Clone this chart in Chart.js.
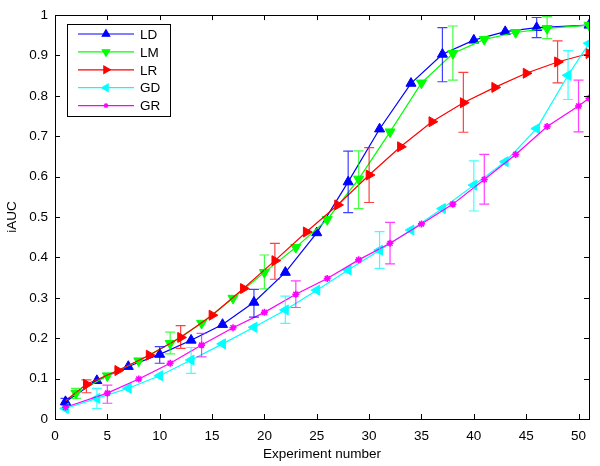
<!DOCTYPE html>
<html>
<head>
<meta charset="utf-8">
<script src="https://cdn.jsdelivr.net/npm/chart.js@4/dist/chart.umd.min.js"></script>
<style>
  html, body { margin: 0; padding: 0; background: #fff; }
  canvas { display: block; }
</style>
</head>
<body>
<canvas id="c" width="600" height="466"></canvas>
<script>
// tick labels
const xTicks = [0, 5, 10, 15, 20, 25, 30, 35, 40, 45, 50];
const yTicks = [0, 0.1, 0.2, 0.3, 0.4, 0.5, 0.6, 0.7, 0.8, 0.9, 1];

// series
const ldX = [1, 4, 7, 10, 13, 16, 19, 22, 25, 28, 31, 34, 37, 40, 43, 46, 51];
const ldY = [0.043, 0.095, 0.13, 0.16, 0.195, 0.234, 0.289, 0.363, 0.461, 0.587, 0.718, 0.831, 0.903, 0.938, 0.959, 0.969, 0.975];
const ldErrX = [1, 10, 19, 28, 37, 46];
const ldErrLo = [0.035, 0.138, 0.252, 0.511, 0.835, 0.944];
const ldErrHi = [0.051, 0.179, 0.321, 0.663, 0.969, 0.994];

const lmX = [1, 2, 5, 8, 11, 14, 17, 20, 23, 26, 29, 32, 35, 38, 41, 44, 47, 51];
const lmY = [0.045, 0.064, 0.107, 0.144, 0.187, 0.237, 0.299, 0.363, 0.425, 0.494, 0.594, 0.711, 0.832, 0.905, 0.94, 0.957, 0.967, 0.975];
const lmErrX = [2, 11, 20, 29, 38, 47];
const lmErrLo = [0.051, 0.161, 0.322, 0.521, 0.839, 0.942];
const lmErrHi = [0.076, 0.215, 0.406, 0.664, 0.973, 0.996];

const lrX = [1, 3, 6, 9, 12, 15, 18, 21, 24, 27, 30, 33, 36, 39, 42, 45, 48, 51];
const lrY = [0.045, 0.086, 0.12, 0.158, 0.202, 0.257, 0.323, 0.392, 0.463, 0.53, 0.604, 0.674, 0.736, 0.783, 0.821, 0.856, 0.884, 0.905];
const lrErrX = [3, 12, 21, 30, 39, 48];
const lrErrLo = [0.065, 0.175, 0.346, 0.536, 0.71, 0.832];
const lrErrHi = [0.097, 0.231, 0.435, 0.672, 0.858, 0.936];

const gdX = [1, 4, 7, 10, 13, 16, 19, 22, 25, 28, 31, 34, 37, 40, 43, 46, 49, 51];
const gdY = [0.026, 0.051, 0.076, 0.107, 0.146, 0.186, 0.227, 0.27, 0.319, 0.369, 0.418, 0.468, 0.521, 0.579, 0.637, 0.719, 0.851, 0.93];
const gdErrX = [4, 13, 22, 31, 40, 49];
const gdErrLo = [0.026, 0.113, 0.237, 0.373, 0.515, 0.791];
const gdErrHi = [0.076, 0.177, 0.304, 0.464, 0.639, 0.912];

const grX = [1, 5, 8, 11, 14, 17, 20, 23, 26, 29, 32, 35, 38, 41, 44, 47, 50, 51];
const grY = [0.029, 0.064, 0.099, 0.138, 0.183, 0.226, 0.264, 0.309, 0.348, 0.394, 0.435, 0.483, 0.532, 0.593, 0.655, 0.724, 0.775, 0.794];
const grErrX = [5, 14, 23, 32, 41, 50];
const grErrLo = [0.039, 0.154, 0.276, 0.384, 0.532, 0.711];
const grErrHi = [0.084, 0.212, 0.342, 0.487, 0.655, 0.839];

const FONT = "'Liberation Sans', Arial, Helvetica, sans-serif";

function pts(xs, ys) {
    return xs.map((x, i) => ({ x: x, y: ys[i] }));
}
function errs(xs, lo, hi) {
    return xs.map((x, i) => ({ x: x, lo: lo[i], hi: hi[i] }));
}

function series(label, xs, ys, color, style, rot, radius, errData, order, noMarkerAt) {
    return {
        label: label,
        data: pts(xs, ys),
        borderColor: color,
        backgroundColor: color,
        borderWidth: 1.2,
        pointStyle: style,
        rotation: rot,
        pointRadius: xs.map(x => (noMarkerAt === x ? 0 : radius)),
        pointBorderWidth: style === "star" ? 1.6 : 1,
        pointBorderColor: color,
        pointBackgroundColor: color,
        tension: 0,
        fill: false,
        order: order,
        errorBars: errData,
        legendRadius: style === "star" ? radius - 1 : radius - 1.5
    };
}

// error bars with caps
const errorBarPlugin = {
    id: "errorBars",
    afterDatasetsDraw(chart) {
        const ctx = chart.ctx;
        const xs = chart.scales.x, ys = chart.scales.y;
        chart.data.datasets.forEach(ds => {
            if (!ds.errorBars) return;
            ctx.save();
            ctx.strokeStyle = ds.borderColor;
            ctx.globalAlpha = 0.75;
            ctx.lineWidth = 1.2;
            ds.errorBars.forEach(e => {
                const px = xs.getPixelForValue(e.x);
                const pLo = ys.getPixelForValue(e.lo);
                const pHi = ys.getPixelForValue(e.hi);
                ctx.beginPath();
                ctx.moveTo(px, pLo); ctx.lineTo(px, pHi);
                ctx.moveTo(px - 5, pLo); ctx.lineTo(px + 5, pLo);
                ctx.moveTo(px - 5, pHi); ctx.lineTo(px + 5, pHi);
                ctx.stroke();
            });
            ctx.restore();
        });
    }
};

// matlab style box + inward ticks
const boxPlugin = {
    id: "box",
    afterDraw(chart) {
        const ctx = chart.ctx;
        const a = chart.chartArea;
        const xs = chart.scales.x, ys = chart.scales.y;
        ctx.save();
        ctx.strokeStyle = "#000";
        ctx.lineWidth = 1;
        ctx.beginPath();
        xTicks.forEach(v => {
            const px = Math.round(xs.getPixelForValue(v)) + 0.5;
            ctx.moveTo(px, a.bottom); ctx.lineTo(px, a.bottom - 5);
            ctx.moveTo(px, a.top); ctx.lineTo(px, a.top + 5);
        });
        yTicks.forEach(v => {
            const py = Math.round(ys.getPixelForValue(v)) + 0.5;
            ctx.moveTo(a.left, py); ctx.lineTo(a.left + 5, py);
            ctx.moveTo(a.right, py); ctx.lineTo(a.right - 5, py);
        });
        ctx.stroke();
        ctx.strokeRect(Math.round(a.left) + 0.5, Math.round(a.top) + 0.5,
            Math.round(a.right - a.left), Math.round(a.bottom - a.top));
        ctx.restore();
    }
};

// legend box in the upper left corner
const legendPlugin = {
    id: "matlabLegend",
    afterDraw(chart) {
        const ctx = chart.ctx;
        ctx.save();
        ctx.fillStyle = "#fff";
        ctx.fillRect(67, 24, 103, 92);
        ctx.strokeStyle = "#000";
        ctx.lineWidth = 1;
        ctx.strokeRect(67.5, 24.5, 103, 92);
        ctx.font = "13.5px " + FONT;
        ctx.textBaseline = "middle";
        chart.data.datasets.forEach((ds, i) => {
            const y = 34 + i * 17.9;
            ctx.strokeStyle = ds.borderColor;
            ctx.lineWidth = 1.2;
            ctx.beginPath();
            ctx.moveTo(78, y); ctx.lineTo(134, y);
            ctx.stroke();
            ctx.fillStyle = ds.backgroundColor;
            Chart.helpers.drawPoint(ctx, {
                pointStyle: ds.pointStyle,
                rotation: ds.rotation,
                radius: ds.legendRadius,
                borderWidth: 1
            }, 106, y);
            ctx.fillStyle = "#000";
            ctx.fillText(ds.label, 140, y + 1);
        });
        ctx.restore();
    }
};

new Chart(document.getElementById("c"), {
    type: "line",
    data: {
        datasets: [
            series("LD", ldX, ldY, "#0000ff", "triangle", 0, 5.8, errs(ldErrX, ldErrLo, ldErrHi), 4),
            series("LM", lmX, lmY, "#00ff00", "triangle", 180, 5.8, errs(lmErrX, lmErrLo, lmErrHi), 3, 1),
            series("LR", lrX, lrY, "#ff0000", "triangle", 90, 5.8, errs(lrErrX, lrErrLo, lrErrHi), 2, 1),
            series("GD", gdX, gdY, "#00ffff", "triangle", 270, 5.8, errs(gdErrX, gdErrLo, gdErrHi), 1),
            series("GR", grX, grY, "#ff00ff", "star", 0, 3.5, errs(grErrX, grErrLo, grErrHi), 0)
        ]
    },
    options: {
        responsive: false,
        animation: false,
        devicePixelRatio: 1,
        layout: { padding: { top: 15, right: 11, left: 0, bottom: 0 } },
        plugins: {
            legend: { display: false },
            tooltip: { enabled: false }
        },
        scales: {
            x: {
                type: "linear",
                min: 0,
                max: 51,
                afterBuildTicks: s => { s.ticks = xTicks.map(v => ({ value: v })); },
                afterFit: s => { s.height = 47; },
                grid: { display: false, drawTicks: false },
                border: { display: false },
                ticks: {
                    color: "#000",
                    padding: 9,
                    maxRotation: 0,
                    font: { family: FONT, size: 13.5 },
                    callback: v => String(v)
                },
                title: {
                    display: true,
                    text: "Experiment number",
                    color: "#000",
                    font: { family: FONT, size: 13.5 },
                    padding: { top: 0, bottom: 4 }
                }
            },
            y: {
                type: "linear",
                min: 0,
                max: 1,
                afterBuildTicks: s => { s.ticks = yTicks.map(v => ({ value: v })); },
                afterFit: s => { s.width = 55; },
                grid: { display: false, drawTicks: false },
                border: { display: false },
                ticks: {
                    color: "#000",
                    padding: 7,
                    font: { family: FONT, size: 13.5 },
                    callback: v => String(v)
                },
                title: {
                    display: true,
                    text: "iAUC",
                    color: "#000",
                    font: { family: FONT, size: 13.5 },
                    padding: { top: 4, bottom: 0 }
                }
            }
        }
    },
    plugins: [errorBarPlugin, boxPlugin, legendPlugin]
});
</script>
</body>
</html>
